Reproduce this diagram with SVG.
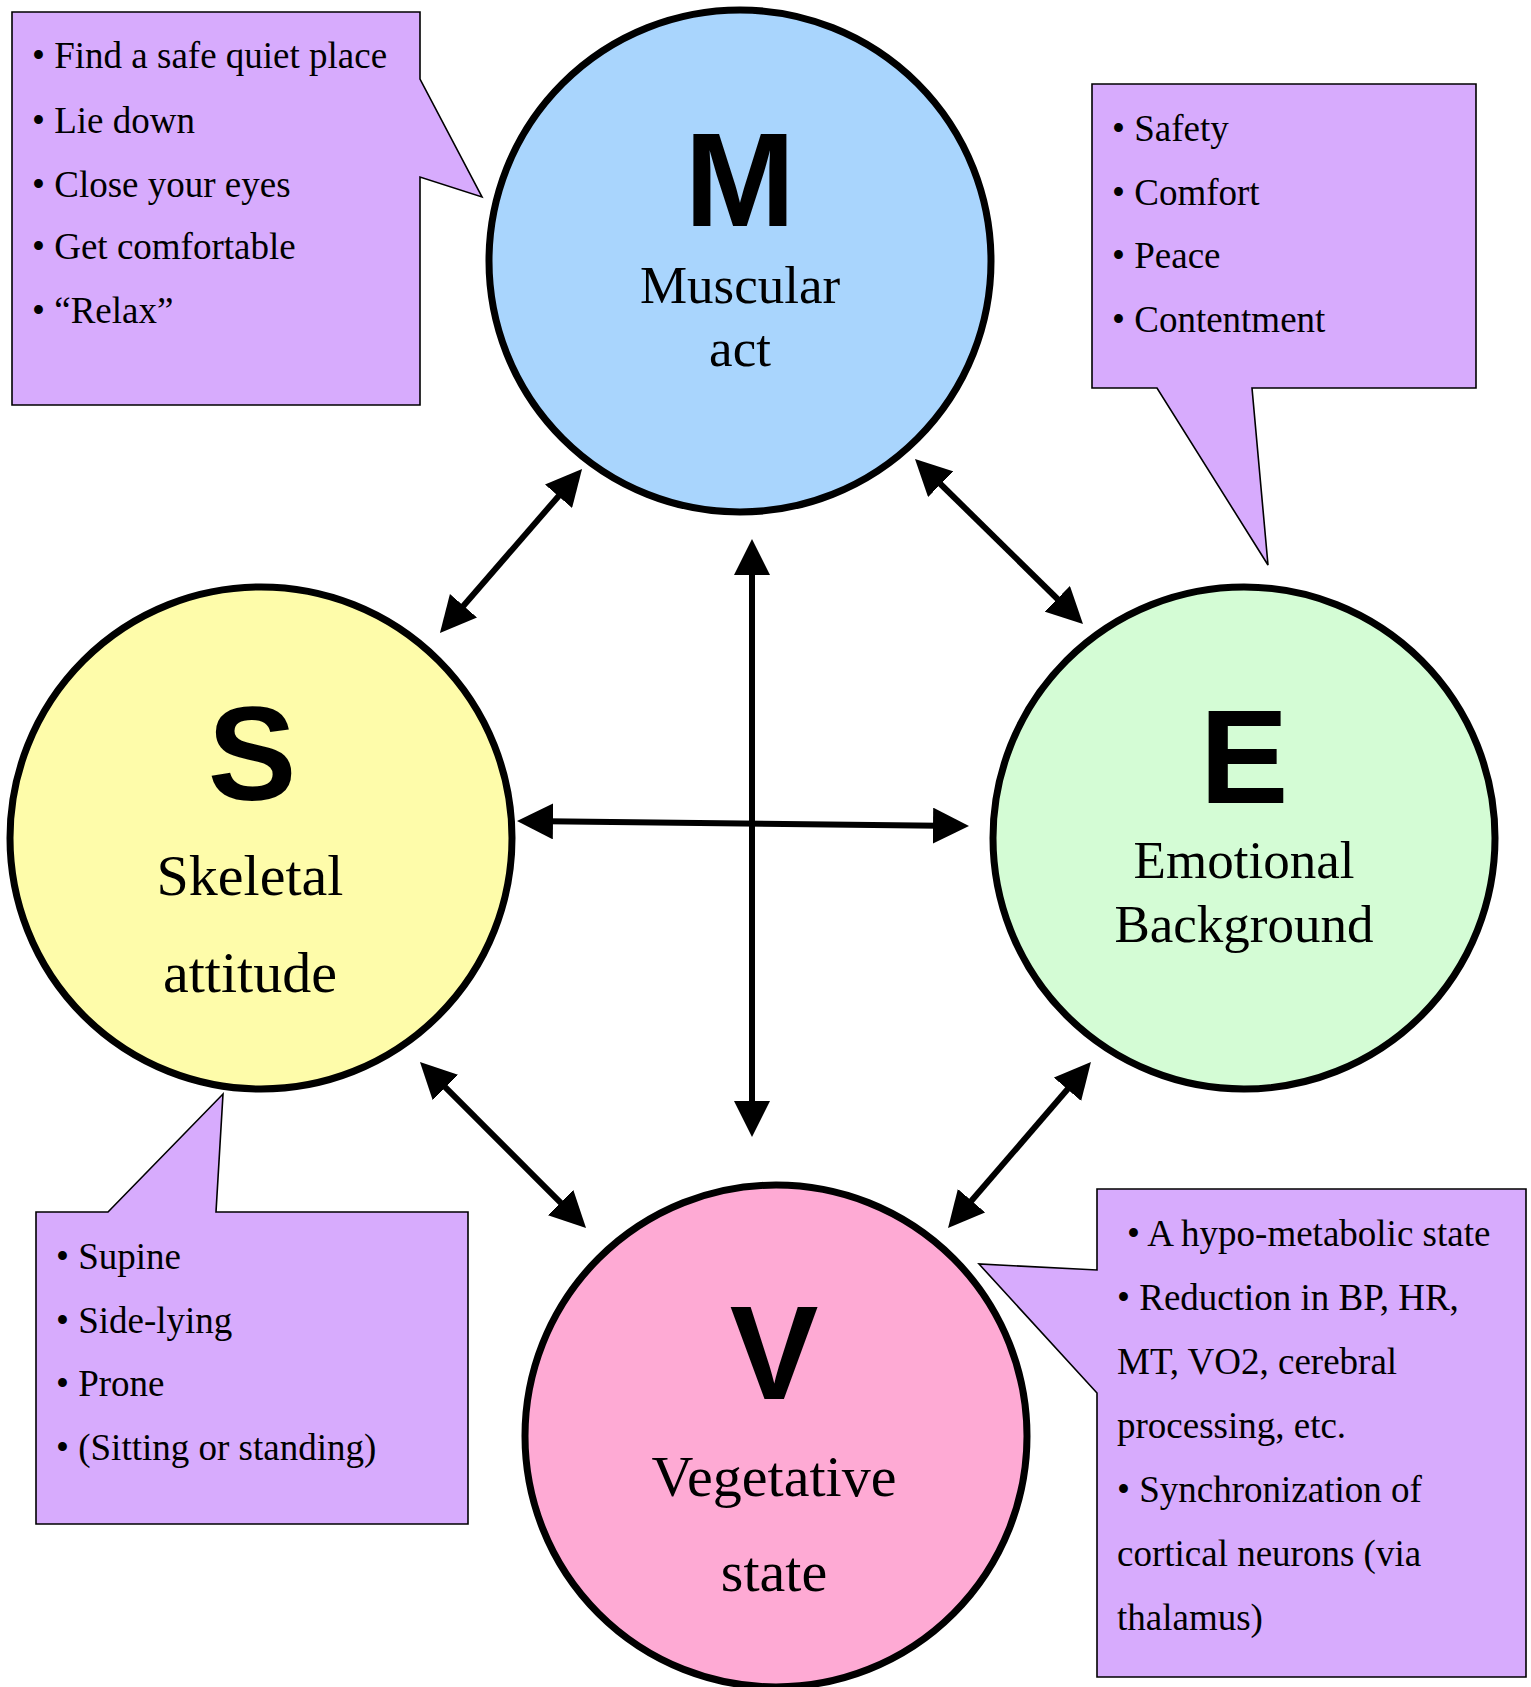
<svg xmlns="http://www.w3.org/2000/svg" width="1531" height="1687" viewBox="0 0 1531 1687">
<style>
.call{fill:#D7ABFD;stroke:#000;stroke-width:1.6}
.ct{font-family:"Liberation Serif","Times New Roman",serif;font-size:37px;fill:#000}
.node{stroke:#000;stroke-width:7}
.big{font-family:"Liberation Sans",Arial,sans-serif;font-weight:bold;font-size:133px;text-anchor:middle;fill:#000}
.lbl{font-family:"Liberation Serif","Times New Roman",serif;text-anchor:middle;fill:#000}
.conn{stroke:#000;stroke-width:6;fill:none;marker-start:url(#ah);marker-end:url(#ah)}
</style>
<defs>
<marker id="ah" viewBox="0 0 6 6" refX="1" refY="3" markerWidth="6" markerHeight="6" orient="auto-start-reverse" markerUnits="strokeWidth">
<path d="M0,0 L6,3 L0,6 Z" fill="#000"/>
</marker>
</defs>
<rect width="1531" height="1687" fill="#fff"/>

<g id="callout-M">
<path class="call" d="M12,12 H420 V79 L482,197 L420,177 V405 H12 Z"/>
<text class="ct" x="32" y="68">• Find a safe quiet place</text>
<text class="ct" x="32" y="133">• Lie down</text>
<text class="ct" x="32" y="197">• Close your eyes</text>
<text class="ct" x="32" y="259">• Get comfortable</text>
<text class="ct" x="32" y="323">• “Relax”</text>
</g>

<g id="callout-E">
<path class="call" d="M1092,84 H1476 V388 H1252 L1268,565 L1157,388 H1092 Z"/>
<text class="ct" x="1112" y="141">• Safety</text>
<text class="ct" x="1112" y="205">• Comfort</text>
<text class="ct" x="1112" y="268">• Peace</text>
<text class="ct" x="1112" y="332">• Contentment</text>
</g>

<g id="callout-S">
<path class="call" d="M36,1212 H108 L223,1094 L216,1212 H468 V1524 H36 Z"/>
<text class="ct" x="56" y="1269">• Supine</text>
<text class="ct" x="56" y="1333">• Side-lying</text>
<text class="ct" x="56" y="1396">• Prone</text>
<text class="ct" x="56" y="1460">• (Sitting or standing)</text>
</g>

<g id="callout-V">
<path class="call" d="M1097,1189 H1526 V1677 H1097 V1393 L979,1264 L1097,1270 Z"/>
<text class="ct" x="1127" y="1246">• A hypo-metabolic state</text>
<text class="ct" x="1117" y="1310">• Reduction in BP, HR,</text>
<text class="ct" x="1117" y="1374">MT, VO2, cerebral</text>
<text class="ct" x="1117" y="1438">processing, etc.</text>
<text class="ct" x="1117" y="1502">• Synchronization of</text>
<text class="ct" x="1117" y="1566">cortical neurons (via</text>
<text class="ct" x="1117" y="1630">thalamus)</text>
</g>

<g id="node-M">
<circle class="node" cx="740" cy="261" r="251" fill="#A9D5FD"/>
<text class="big" x="740" y="226">M</text>
<text class="lbl" x="740" y="303" font-size="53">Muscular</text>
<text class="lbl" x="740" y="366" font-size="53">act</text>
</g>

<g id="node-S">
<circle class="node" cx="261" cy="838" r="251" fill="#FEFCAA"/>
<text class="big" x="252" y="800">S</text>
<text class="lbl" x="250" y="895" font-size="58">Skeletal</text>
<text class="lbl" x="250" y="992" font-size="58">attitude</text>
</g>

<g id="node-E">
<circle class="node" cx="1244" cy="838" r="251" fill="#D4FCD5"/>
<text class="big" x="1244" y="803">E</text>
<text class="lbl" x="1244" y="878" font-size="53">Emotional</text>
<text class="lbl" x="1244" y="942" font-size="53">Background</text>
</g>

<g id="node-V">
<circle class="node" cx="776" cy="1436" r="251" fill="#FEAAD4"/>
<text class="big" x="774" y="1399">V</text>
<text class="lbl" x="774" y="1496" font-size="58">Vegetative</text>
<text class="lbl" x="774" y="1591" font-size="58">state</text>
</g>

<g id="connectors">
<line class="conn" x1="562.4" y1="491.7" x2="459.6" y2="610.3"/>
<line class="conn" x1="936.4" y1="480" x2="1061.6" y2="603"/>
<line class="conn" x1="752" y1="569" x2="752" y2="1107"/>
<line class="conn" x1="547" y1="821.3" x2="939" y2="825.7"/>
<line class="conn" x1="441.2" y1="1083.2" x2="564.8" y2="1206.8"/>
<line class="conn" x1="1071.4" y1="1084.7" x2="967.6" y2="1205.3"/>
</g>
</svg>
